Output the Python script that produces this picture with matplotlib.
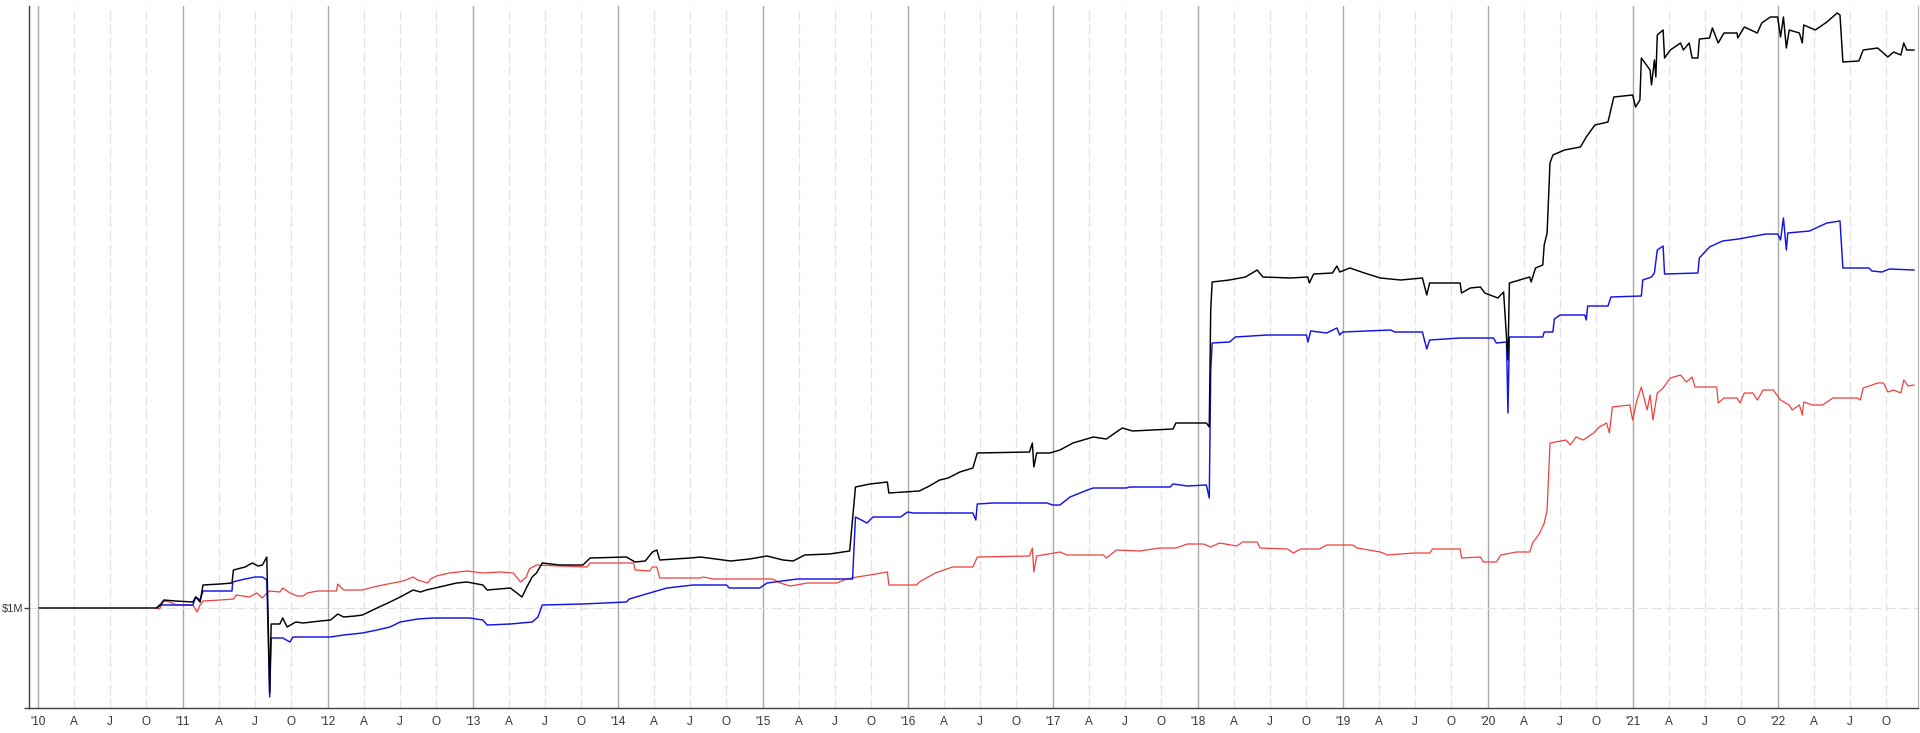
import matplotlib
matplotlib.use("Agg")
import matplotlib.pyplot as plt

plt.rcParams['font.family'] = ['Liberation Sans', 'DejaVu Sans']

# ---- data (x in decimal years, equity in $M) ----
black_t = [2010.01, 2010.82, 2010.84, 2010.87, 2010.95, 2011.07, 2011.09, 2011.12, 2011.14, 2011.26,
           2011.34, 2011.35, 2011.43, 2011.48, 2011.52, 2011.55, 2011.58, 2011.60, 2011.61, 2011.67,
           2011.69, 2011.72, 2011.78, 2011.83, 2011.95, 2012.02, 2012.07, 2012.11, 2012.19, 2012.24,
           2012.34, 2012.43, 2012.50, 2012.59, 2012.64, 2012.68, 2012.77, 2012.89, 2012.96, 2013.07,
           2013.10, 2013.26, 2013.34, 2013.37, 2013.41, 2013.44, 2013.48, 2013.60, 2013.76, 2013.81,
           2014.06, 2014.12, 2014.19, 2014.24, 2014.27, 2014.29, 2014.50, 2014.57, 2014.78, 2014.91,
           2015.03, 2015.14, 2015.21, 2015.29, 2015.46, 2015.60, 2015.64, 2015.74, 2015.86, 2015.87,
           2016.08, 2016.15, 2016.22, 2016.28, 2016.36, 2016.45, 2016.48, 2016.84, 2016.86, 2016.87,
           2016.89, 2016.98, 2017.05, 2017.14, 2017.28, 2017.37, 2017.44, 2017.48, 2017.55, 2017.83,
           2017.85, 2018.06, 2018.08, 2018.09, 2018.10, 2018.22, 2018.33, 2018.41, 2018.45, 2018.64,
           2018.76, 2018.77, 2018.80, 2018.93, 2018.96, 2018.98, 2019.05, 2019.15, 2019.26, 2019.40,
           2019.55, 2019.58, 2019.60, 2019.81, 2019.82, 2019.88, 2019.95, 2019.98, 2020.07, 2020.11,
           2020.14, 2020.15, 2020.29, 2020.30, 2020.33, 2020.38, 2020.39, 2020.41, 2020.43, 2020.45,
           2020.53, 2020.64, 2020.68, 2020.74, 2020.83, 2020.87, 2021.00, 2021.02, 2021.05, 2021.06,
           2021.12, 2021.13, 2021.15, 2021.16, 2021.17, 2021.21, 2021.22, 2021.26, 2021.33, 2021.35,
           2021.39, 2021.41, 2021.45, 2021.46, 2021.53, 2021.55, 2021.59, 2021.63, 2021.72, 2021.725,
           2021.77, 2021.86, 2021.89, 2021.95, 2022.00, 2022.02, 2022.04, 2022.06, 2022.08, 2022.15,
           2022.17, 2022.18, 2022.26, 2022.34, 2022.41, 2022.43, 2022.45, 2022.56, 2022.59, 2022.69,
           2022.76, 2022.80, 2022.85, 2022.87, 2022.89, 2022.94]
black_v = [1.00, 1.00, 1.02, 1.08, 1.07, 1.06, 1.11, 1.06, 1.23, 1.24,
           1.25, 1.38, 1.41, 1.45, 1.42, 1.43, 1.51, 0.15, 0.84, 0.84,
           0.90, 0.81, 0.86, 0.85, 0.87, 0.88, 0.94, 0.91, 0.92, 0.93,
           1.00, 1.06, 1.11, 1.18, 1.16, 1.18, 1.21, 1.25, 1.26, 1.23,
           1.18, 1.20, 1.11, 1.20, 1.31, 1.35, 1.45, 1.43, 1.43, 1.50,
           1.51, 1.46, 1.47, 1.56, 1.58, 1.48, 1.50, 1.51, 1.47, 1.49,
           1.52, 1.48, 1.47, 1.53, 1.54, 1.57, 2.21, 2.24, 2.26, 2.15,
           2.17, 2.22, 2.28, 2.30, 2.36, 2.40, 2.55, 2.56, 2.65, 2.41,
           2.55, 2.55, 2.58, 2.65, 2.71, 2.69, 2.76, 2.80, 2.77, 2.79,
           2.85, 2.85, 2.81, 3.98, 4.26, 4.28, 4.31, 4.38, 4.31, 4.30,
           4.31, 4.25, 4.34, 4.35, 4.42, 4.36, 4.40, 4.35, 4.30, 4.28,
           4.30, 4.13, 4.25, 4.25, 4.15, 4.20, 4.21, 4.15, 4.10, 4.16,
           3.48, 4.25, 4.31, 4.26, 4.40, 4.43, 4.63, 4.75, 5.45, 5.53,
           5.58, 5.61, 5.71, 5.83, 5.86, 6.11, 6.13, 6.01, 6.08, 6.50,
           6.38, 6.23, 6.48, 6.31, 6.73, 6.78, 6.50, 6.58, 6.65, 6.58,
           6.65, 6.50, 6.50, 6.69, 6.70, 6.80, 6.65, 6.75, 6.75, 6.70,
           6.81, 6.75, 6.85, 6.91, 6.91, 6.71, 6.91, 6.60, 6.78, 6.75,
           6.65, 6.83, 6.78, 6.86, 6.95, 6.93, 6.46, 6.47, 6.58, 6.60,
           6.51, 6.56, 6.53, 6.65, 6.58, 6.58]

blue_t = [2010.82, 2010.84, 2011.07, 2011.09, 2011.12, 2011.14, 2011.34, 2011.345, 2011.43, 2011.50,
          2011.55, 2011.58, 2011.60, 2011.61, 2011.69, 2011.74, 2011.76, 2012.02, 2012.11, 2012.24,
          2012.34, 2012.43, 2012.50, 2012.62, 2012.73, 2012.98, 2013.07, 2013.10, 2013.26, 2013.41,
          2013.45, 2013.48, 2013.76, 2014.06, 2014.08, 2014.22, 2014.34, 2014.52, 2014.75, 2014.77,
          2014.98, 2015.03, 2015.24, 2015.62, 2015.64, 2015.72, 2015.76, 2015.95, 2016.00, 2016.04,
          2016.45, 2016.47, 2016.48, 2016.59, 2016.96, 2017.00, 2017.05, 2017.12, 2017.24, 2017.28,
          2017.51, 2017.53, 2017.81, 2017.83, 2017.93, 2018.06, 2018.08, 2018.09, 2018.10, 2018.22,
          2018.26, 2018.48, 2018.75, 2018.76, 2018.78, 2018.89, 2018.96, 2018.98, 2019.00, 2019.33,
          2019.36, 2019.55, 2019.58, 2019.60, 2019.81, 2020.04, 2020.06, 2020.13, 2020.14, 2020.15,
          2020.38, 2020.39, 2020.45, 2020.46, 2020.50, 2020.67, 2020.68, 2020.69, 2020.83, 2020.85,
          2021.06, 2021.07, 2021.13, 2021.15, 2021.17, 2021.21, 2021.22, 2021.45, 2021.46, 2021.53,
          2021.62, 2021.73, 2021.92, 2022.00, 2022.02, 2022.04, 2022.06, 2022.07, 2022.22, 2022.34,
          2022.43, 2022.45, 2022.63, 2022.65, 2022.72, 2022.77, 2022.94]
blue_v = [1.00, 1.03, 1.03, 1.11, 1.08, 1.17, 1.17, 1.26, 1.29, 1.31,
          1.31, 1.28, 0.11, 0.70, 0.70, 0.66, 0.71, 0.71, 0.73, 0.75,
          0.78, 0.81, 0.86, 0.89, 0.90, 0.90, 0.88, 0.83, 0.84, 0.86,
          0.91, 1.03, 1.04, 1.06, 1.09, 1.15, 1.20, 1.23, 1.23, 1.20,
          1.20, 1.25, 1.29, 1.29, 1.91, 1.85, 1.91, 1.91, 1.96, 1.95,
          1.95, 1.88, 2.04, 2.05, 2.05, 2.03, 2.03, 2.11, 2.18, 2.20,
          2.20, 2.21, 2.21, 2.24, 2.22, 2.23, 2.10, 3.36, 3.65, 3.66,
          3.71, 3.73, 3.73, 3.66, 3.77, 3.75, 3.80, 3.73, 3.76, 3.78,
          3.76, 3.76, 3.59, 3.68, 3.70, 3.70, 3.65, 3.66, 2.95, 3.71,
          3.71, 3.76, 3.76, 3.89, 3.93, 3.93, 3.88, 4.02, 4.02, 4.11,
          4.12, 4.28, 4.31, 4.35, 4.58, 4.62, 4.34, 4.35, 4.50, 4.61,
          4.67, 4.69, 4.74, 4.74, 4.68, 4.90, 4.58, 4.75, 4.77, 4.85,
          4.87, 4.40, 4.40, 4.37, 4.36, 4.39, 4.38]

red_t = [2010.82, 2010.84, 2010.87, 2010.91, 2010.96, 2011.07, 2011.10, 2011.12, 2011.14, 2011.26,
         2011.35, 2011.37, 2011.46, 2011.51, 2011.55, 2011.58, 2011.60, 2011.67, 2011.69, 2011.74,
         2011.79, 2011.83, 2011.86, 2011.93, 2012.06, 2012.07, 2012.11, 2012.24, 2012.29, 2012.38,
         2012.52, 2012.59, 2012.62, 2012.69, 2012.71, 2012.75, 2012.84, 2012.96, 2013.07, 2013.19,
         2013.28, 2013.33, 2013.37, 2013.39, 2013.44, 2013.60, 2013.79, 2013.81, 2014.11, 2014.12,
         2014.22, 2014.24, 2014.27, 2014.29, 2014.57, 2014.59, 2014.66, 2015.07, 2015.12, 2015.19,
         2015.31, 2015.51, 2015.58, 2015.65, 2015.74, 2015.86, 2015.87, 2016.06, 2016.08, 2016.19,
         2016.31, 2016.45, 2016.48, 2016.84, 2016.86, 2016.87, 2016.89, 2017.05, 2017.10, 2017.35,
         2017.37, 2017.44, 2017.60, 2017.74, 2017.85, 2017.93, 2018.04, 2018.09, 2018.15, 2018.27,
         2018.31, 2018.41, 2018.43, 2018.62, 2018.66, 2018.71, 2018.84, 2018.89, 2019.07, 2019.10,
         2019.26, 2019.31, 2019.49, 2019.60, 2019.62, 2019.81, 2019.82, 2019.95, 2019.97, 2020.06,
         2020.09, 2020.20, 2020.29, 2020.31, 2020.36, 2020.39, 2020.41, 2020.43, 2020.54, 2020.57,
         2020.61, 2020.66, 2020.73, 2020.77, 2020.82, 2020.84, 2020.86, 2020.98, 2021.00, 2021.03,
         2021.06, 2021.10, 2021.12, 2021.14, 2021.17, 2021.21, 2021.26, 2021.33, 2021.37, 2021.41,
         2021.43, 2021.58, 2021.59, 2021.63, 2021.72, 2021.74, 2021.77, 2021.83, 2021.86, 2021.90,
         2021.97, 2022.02, 2022.08, 2022.10, 2022.15, 2022.17, 2022.18, 2022.24, 2022.31, 2022.38,
         2022.55, 2022.57, 2022.59, 2022.69, 2022.73, 2022.76, 2022.80, 2022.85, 2022.87, 2022.90,
         2022.94]
red_v = [1.00, 0.99, 1.07, 1.06, 1.03, 1.03, 0.96, 1.03, 1.07, 1.08,
         1.09, 1.13, 1.11, 1.15, 1.10, 1.15, 1.17, 1.16, 1.20, 1.15,
         1.12, 1.12, 1.15, 1.17, 1.17, 1.24, 1.18, 1.18, 1.20, 1.23,
         1.27, 1.31, 1.28, 1.25, 1.29, 1.32, 1.35, 1.37, 1.35, 1.36,
         1.35, 1.26, 1.31, 1.39, 1.43, 1.42, 1.41, 1.45, 1.45, 1.38,
         1.37, 1.41, 1.41, 1.30, 1.30, 1.31, 1.29, 1.29, 1.25, 1.22,
         1.25, 1.25, 1.29, 1.31, 1.33, 1.36, 1.23, 1.23, 1.26, 1.35,
         1.41, 1.41, 1.51, 1.52, 1.60, 1.36, 1.52, 1.56, 1.53, 1.53,
         1.50, 1.58, 1.57, 1.60, 1.60, 1.64, 1.64, 1.61, 1.65, 1.62,
         1.66, 1.66, 1.60, 1.59, 1.55, 1.59, 1.59, 1.63, 1.63, 1.60,
         1.56, 1.53, 1.55, 1.55, 1.59, 1.59, 1.50, 1.51, 1.46, 1.46,
         1.53, 1.56, 1.56, 1.65, 1.75, 1.85, 1.98, 2.65, 2.68, 2.63,
         2.71, 2.68, 2.75, 2.81, 2.85, 2.75, 3.01, 3.03, 2.88, 3.08,
         3.21, 2.98, 3.13, 2.88, 3.15, 3.20, 3.30, 3.33, 3.26, 3.31,
         3.21, 3.21, 3.05, 3.10, 3.10, 3.05, 3.15, 3.15, 3.08, 3.18,
         3.18, 3.08, 3.03, 2.98, 3.03, 2.93, 3.06, 3.03, 3.03, 3.10,
         3.10, 3.08, 3.20, 3.25, 3.25, 3.16, 3.18, 3.15, 3.28, 3.22,
         3.23]

years = list(range(2010, 2023))
year_labels = ["'10", "'11", "'12", "'13", "'14", "'15", "'16", "'17", "'18", "'19", "'20", "'21", "'22"]
quarter_labels = ["A", "J", "O"]
y_ticks = [1.0]
y_tick_labels = ["$1M"]

# ---- figure ----
fig = plt.figure(figsize=(19.2, 7.33), dpi=100)
ax = fig.add_axes([29/1920, 25/733, 1889/1920, 702/733])
ax.set_xlim(2009.94, 2022.968)
ax.set_ylim(0, 7.02)

# grid lines
for y in years:
    ax.axvline(y, color='#a9a9a9', lw=1.0, zorder=1)
    for q in (0.25, 0.5, 0.75):
        ax.axvline(y + q, color='#e2e2e2', lw=0.9, ls=(0, (8, 3)), zorder=1)
for yv in y_ticks:
    ax.axhline(yv, color='#e2e2e2', lw=0.9, ls=(0, (8, 3)), zorder=1)

ax.plot(red_t, red_v, color='#f04040', lw=0.9, zorder=3)
ax.plot(blue_t, blue_v, color='#1414e6', lw=1.05, zorder=4)
ax.plot(black_t, black_v, color='#000000', lw=1.05, zorder=5)

# x ticks
xt, xl = [], []
for i, y in enumerate(years):
    xt.append(y); xl.append(year_labels[i])
    for j, q in enumerate((0.25, 0.5, 0.75)):
        xt.append(y + q); xl.append(quarter_labels[j])
ax.set_xticks(xt)
ax.set_xticklabels(xl)
ax.tick_params(axis='x', length=0, pad=6, labelsize=8.5, labelcolor='#333333')

ax.set_yticks([0] + y_ticks)
ax.set_yticklabels([''] + y_tick_labels)
ax.tick_params(axis='y', length=3.5, width=1, color='#404040', pad=0.5, labelsize=8, labelcolor='#333333')

for s in ('left', 'bottom'):
    ax.spines[s].set_color('#404040')
    ax.spines[s].set_linewidth(1.0)
ax.spines['right'].set_color('#b0b0b0')
ax.spines['top'].set_visible(False)

fig.savefig('out.png', dpi=100, facecolor='white')
